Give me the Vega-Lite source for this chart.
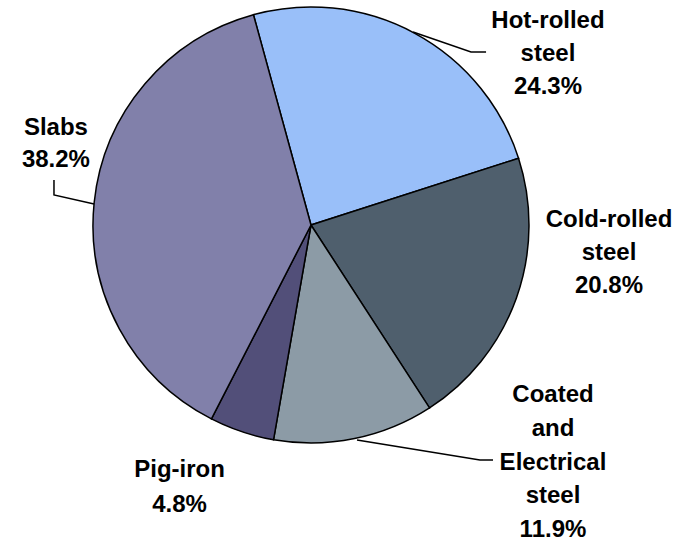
{
  "$schema": "https://vega.github.io/schema/vega-lite/v6.json",
  "width": 622,
  "height": 450,
  "autosize": {"type": "none"},
  "padding": {"left": 0, "top": 0, "right": 64, "bottom": 92},
  "background": "white",
  "config": {"view": {"stroke": null}},
  "datasets": {
    "slices": [
      {"slice": "Hot-rolled steel", "idx": 1, "share": 24.3},
      {"slice": "Cold-rolled steel", "idx": 2, "share": 20.8},
      {"slice": "Coated and Electrical steel", "idx": 3, "share": 11.9},
      {"slice": "Pig-iron", "idx": 4, "share": 4.8},
      {"slice": "Slabs", "idx": 5, "share": 38.2}
    ],
    "leaders": [
      {"slice": "Hot-rolled steel", "step": 0, "x": 46.8, "y": 88.5},
      {"slice": "Hot-rolled steel", "step": 1, "x": 73.4, "y": 79.4},
      {"slice": "Hot-rolled steel", "step": 2, "x": 80.3, "y": 79.4},
      {"slice": "Coated and Electrical steel", "step": 0, "x": 21.1, "y": -98.6},
      {"slice": "Coated and Electrical steel", "step": 1, "x": 77.5, "y": -107.8},
      {"slice": "Coated and Electrical steel", "step": 2, "x": 83.5, "y": -107.8},
      {"slice": "Slabs", "step": 0, "x": -117.9, "y": 20.6},
      {"slice": "Slabs", "step": 1, "x": -117.9, "y": 13.8},
      {"slice": "Slabs", "step": 2, "x": -99.5, "y": 9.6}
    ]
  },
  "layer": [
    {
      "data": {"name": "slices"},
      "mark": {"type": "arc", "outerRadius": 218, "stroke": "black", "strokeWidth": 1.5},
      "encoding": {
        "theta": {"field": "share", "type": "quantitative", "stack": true, "scale": {"range": [-0.267, 6.016]}},
        "order": {"field": "idx", "type": "quantitative"},
        "color": {
          "field": "slice",
          "type": "nominal",
          "legend": null,
          "scale": {
            "domain": ["Hot-rolled steel", "Cold-rolled steel", "Coated and Electrical steel", "Pig-iron", "Slabs"],
            "range": ["#99BFF9", "#4F5F6D", "#8C9BA6", "#524F79", "#8180AA"]
          }
        }
      }
    },
    {
      "data": {"name": "leaders"},
      "mark": {"type": "line", "stroke": "black", "strokeWidth": 1.5},
      "encoding": {
        "x": {"field": "x", "type": "quantitative", "axis": null, "scale": {"domain": [-142.66, 142.66], "nice": false, "zero": false}},
        "y": {"field": "y", "type": "quantitative", "axis": null, "scale": {"domain": [-103.21, 103.21], "nice": false, "zero": false}},
        "detail": {"field": "slice"},
        "order": {"field": "step", "type": "quantitative"}
      }
    },
    {
      "data": {"name": "slices"},
      "transform": [
        {"filter": "datum.slice === 'Hot-rolled steel'"},
        {"calculate": "datum.slice + ' ' + format(datum.share, '.1f') + '%'", "as": "label"}
      ],
      "mark": {"type": "text", "font": "Liberation Sans", "fontSize": 24, "fontWeight": "bold", "lineBreak": " ", "lineHeight": 33, "align": "center", "baseline": "alphabetic", "fill": "black"},
      "encoding": {
        "x": {"datum": 108.7, "type": "quantitative", "axis": null},
        "y": {"datum": 90.4, "type": "quantitative", "axis": null},
        "text": {"field": "label"}
      }
    },
    {
      "data": {"name": "slices"},
      "transform": [
        {"filter": "datum.slice === 'Cold-rolled steel'"},
        {"calculate": "datum.slice + ' ' + format(datum.share, '.1f') + '%'", "as": "label"}
      ],
      "mark": {"type": "text", "font": "Liberation Sans", "fontSize": 24, "fontWeight": "bold", "lineBreak": " ", "lineHeight": 33, "align": "center", "baseline": "alphabetic", "fill": "black"},
      "encoding": {
        "x": {"datum": 136.7, "type": "quantitative", "axis": null},
        "y": {"datum": -0.9, "type": "quantitative", "axis": null},
        "text": {"field": "label"}
      }
    },
    {
      "data": {"name": "slices"},
      "transform": [
        {"filter": "datum.slice === 'Coated and Electrical steel'"},
        {"calculate": "datum.slice + ' ' + format(datum.share, '.1f') + '%'", "as": "label"}
      ],
      "mark": {"type": "text", "font": "Liberation Sans", "fontSize": 24, "fontWeight": "bold", "lineBreak": " ", "lineHeight": 33.75, "align": "center", "baseline": "alphabetic", "fill": "black"},
      "encoding": {
        "x": {"datum": 111.0, "type": "quantitative", "axis": null},
        "y": {"datum": -81.2, "type": "quantitative", "axis": null},
        "text": {"field": "label"}
      }
    },
    {
      "data": {"name": "slices"},
      "transform": [
        {"filter": "datum.slice === 'Pig-iron'"},
        {"calculate": "datum.slice + ' ' + format(datum.share, '.1f') + '%'", "as": "label"}
      ],
      "mark": {"type": "text", "font": "Liberation Sans", "fontSize": 24, "fontWeight": "bold", "lineBreak": " ", "lineHeight": 35, "align": "center", "baseline": "alphabetic", "fill": "black"},
      "encoding": {
        "x": {"datum": -60.3, "type": "quantitative", "axis": null},
        "y": {"datum": -115.6, "type": "quantitative", "axis": null},
        "text": {"field": "label"}
      }
    },
    {
      "data": {"name": "slices"},
      "transform": [
        {"filter": "datum.slice === 'Slabs'"},
        {"calculate": "datum.slice + ' ' + format(datum.share, '.1f') + '%'", "as": "label"}
      ],
      "mark": {"type": "text", "font": "Liberation Sans", "fontSize": 24, "fontWeight": "bold", "lineBreak": " ", "lineHeight": 32, "align": "center", "baseline": "alphabetic", "fill": "black"},
      "encoding": {
        "x": {"datum": -117.0, "type": "quantitative", "axis": null},
        "y": {"datum": 41.3, "type": "quantitative", "axis": null},
        "text": {"field": "label"}
      }
    }
  ]
}
